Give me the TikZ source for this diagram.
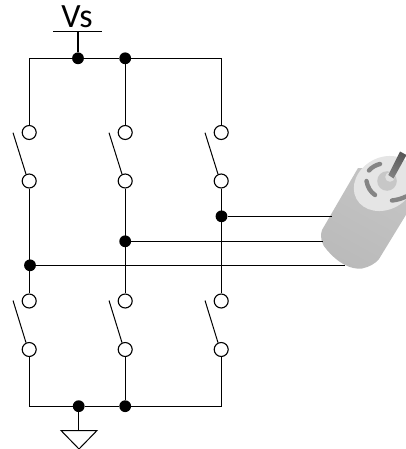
\documentclass[tikz,border=0pt]{standalone}
\usepackage{fontspec}
\setmainfont{Carlito}
\begin{document}
\begin{tikzpicture}[x=1pt,y=-1pt,
  wire/.style={draw=black,line width=1.3pt},
  term/.style={circle,draw=black,fill=white,line width=1.1pt,minimum size=14pt,inner sep=0pt},
  junction/.style={circle,fill=black,minimum size=11.8pt,inner sep=0pt},
  lever/.style={draw=black,line width=1pt},
  slot/.style={draw=black!48,line width=4.4pt,line cap=round}]
\useasboundingbox (0,0) rectangle (406,449);
% free connector ends
\coordinate (barL) at (53.3,31.3); \coordinate (barR) at (102.4,31.3); \coordinate (barM) at (78,31.3);
\coordinate (topL) at (29.2,58.3); \coordinate (topR) at (221.2,58.3);
\coordinate (botL) at (29.2,406.2); \coordinate (botR) at (221.2,406.2);
\coordinate (gndA) at (61,430.5); \coordinate (gndB) at (97,430.5); \coordinate (gndC) at (79,449); \coordinate (gndM) at (78.7,430.5);
\coordinate (mA) at (332,216.3); \coordinate (mB) at (323,241.3); \coordinate (mC) at (345,265.3);
% motor
\begin{scope}
\clip (300,130) rectangle (406,280);
\shade[left color=black!23,middle color=black!13,right color=black!27,shading angle=-29]
  (358,168) -- (322,230) .. controls (319.5,238) and (322,245) .. (327,250)
  .. controls (337,262) and (350,270) .. (362,268.5) .. controls (369,267) and (375,264) .. (379,259)
  -- (412,205) -- (400,170) -- cycle;
\fill[black!10,rotate around={29:(384.5,183.5)}] (384.5,183.5) ellipse (32pt and 26pt);
\fill[black!22] (387,181) circle (9.8pt);
\fill[black!12] (390,177) circle (4.8pt);
\shade[left color=black!65,right color=black!50,shading angle=-29] (400,151.5) -- (406.5,155) -- (393.5,178.5) -- (388.3,175) -- cycle;
\draw[slot] (369,170.5) .. controls (372,167) and (376,165) .. (380,164);
\draw[slot] (366.5,181) .. controls (367.5,187) and (370.5,192) .. (375,195);
\draw[slot] (392,200.5) .. controls (397,200) and (402,198.5) .. (406,196.5);
\end{scope}
% nodes
\node[term] (t1) at (29.2,132.5) {}; \node[term] (t2) at (125.2,132.5) {}; \node[term] (t3) at (221.2,132.5) {};
\node[term] (u1) at (29.2,181) {}; \node[term] (u2) at (125.2,181) {}; \node[term] (u3) at (221.2,181) {};
\node[term] (v1) at (29.2,301) {}; \node[term] (v2) at (125.2,301) {}; \node[term] (v3) at (221.2,301) {};
\node[term] (w1) at (29.2,349.5) {}; \node[term] (w2) at (125.2,349.5) {}; \node[term] (w3) at (221.2,349.5) {};
\node[junction] (jv) at (78,58.3) {}; \node[junction] (jt) at (125.2,58.3) {};
\node[junction] (jb) at (78.7,406.2) {}; \node[junction] (jc) at (125.2,406.2) {};
\node[junction] (j1) at (30,265.3) {}; \node[junction] (j2) at (125.2,241.3) {}; \node[junction] (j3) at (221.5,216.3) {};
\node[anchor=base,font=\fontsize{34}{34}\selectfont,inner sep=0pt] (vs) at (77,28) {Vs};
% wires
\draw[wire] (barL) -- (barR);
\draw[wire] (barM) -- (jv);
\draw[wire] (t1) -- (topL) -- (jv) -- (jt) -- (topR) -- (t3);
\draw[wire] (jt) -- (t2);
\draw[wire] (u1) -- (v1); \draw[wire] (u2) -- (v2); \draw[wire] (u3) -- (v3);
\draw[wire] (w1) -- (botL) -- (jb) -- (jc) -- (botR) -- (w3);
\draw[wire] (w2) -- (jc);
\draw[wire] (jb) -- (gndM);
\draw[wire,line width=1pt,line join=miter] (gndA) -- (gndB) -- (gndC) -- cycle;
\draw[wire] (j3) -- (mA); \draw[wire] (j2) -- (mB); \draw[wire] (j1) -- (mC);
% levers
\coordinate (la1) at (13,132.7); \coordinate (lb1) at (109,132.7); \coordinate (lc1) at (205,132.7);
\coordinate (la2) at (13,300.5); \coordinate (lb2) at (109,300.5); \coordinate (lc2) at (205,300.5);
\draw[lever] (la1) -- (u1.115); \draw[lever] (lb1) -- (u2.115); \draw[lever] (lc1) -- (u3.115);
\draw[lever] (la2) -- (w1.115); \draw[lever] (lb2) -- (w2.115); \draw[lever] (lc2) -- (w3.115);
\end{tikzpicture}
\end{document}
